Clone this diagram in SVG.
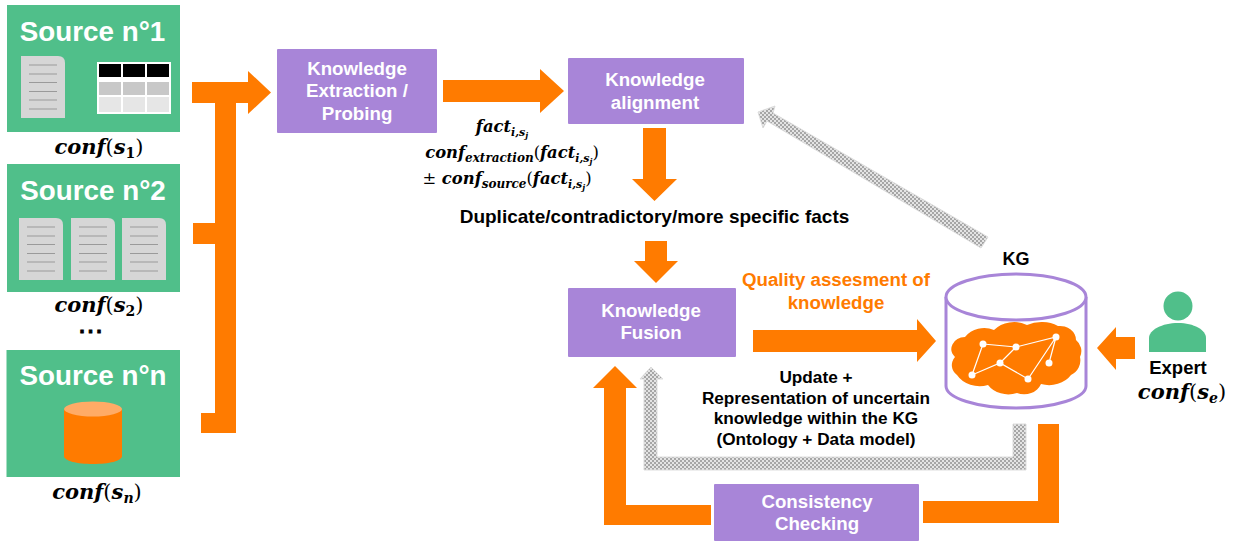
<svg xmlns="http://www.w3.org/2000/svg" width="1239" height="543" viewBox="0 0 1239 543">
<style>
.src{fill:#50bf8a}
.sl{font:bold 27.800px "Liberation Sans",Arial,sans-serif;fill:#fff;text-anchor:middle}
.box{fill:#a885d8}
.bl{font:bold 18.700px "Liberation Sans",Arial,sans-serif;fill:#fff;text-anchor:middle}
.t{font:bold 17.200px "Liberation Sans",Arial,sans-serif;fill:#000;text-anchor:middle}
.q{font:bold 18.700px "Liberation Sans",Arial,sans-serif;fill:#ff7b00;text-anchor:middle}
.m{font:italic bold 21px "DejaVu Serif","Liberation Serif",serif;fill:#000;text-anchor:middle}
.f{font-size:16.400px}
.m .u{font-style:normal;font-weight:normal}
.s{font-size:14px}
.o{fill:#ff7b00}
.g{fill:url(#chk);stroke:#ddd;stroke-width:1}
.ln{stroke:#9a9a9a;stroke-width:1}
.e{stroke:#fff;stroke-width:1.2;fill:none}
.n{fill:#fff}
</style>
<defs>
<pattern id="chk" width="4" height="4" patternUnits="userSpaceOnUse">
<rect width="4" height="4" fill="#e4e4e4"/>
<rect width="2" height="2" fill="#a6a6a6"/>
<rect x="2" y="2" width="2" height="2" fill="#a6a6a6"/>
</pattern>
<g id="doc">
<path d="M0 0H37Q44 0 44 7V62H0Z" fill="#d6d6d6"/>
<path class="ln" d="M8 9H36M8 18H36M8 26.500H36M8 35.500H36M8 44H36M8 53H36"/>
</g>
</defs>

<g id="connectors">
<path class="o" d="M192 82H248V71L271 92.500L248 114V103H236V433H201V413H215V244H193V223H215V103H192Z"/>
<path class="o" d="M443 80H540V69L564 91L540 113V102H443Z"/>
<path class="o" d="M643 128H666V179H677L654.500 201L632 179H643Z"/>
<path class="o" d="M645 241H667V261H678L656 283L634 261H645Z"/>
<path class="o" d="M753 330H917V319L936 341L917 362V352H753Z"/>
<path class="o" d="M1135 337V359H1116V370L1097 348L1116 327V337Z"/>
<path class="o" d="M923 501H1038V424H1059V523H923Z"/>
<path class="o" d="M711 505V525H604V388H593L615 366L637 388H626V505Z"/>
<path class="g" d="M758 112L775 106L773 113L988 237L981 248L767 121L763 128Z"/>
<path class="g" d="M1013 424H1026V470H644V379H640L651 367L663 379H657V457H1013Z"/>
</g>

<g id="source1">
<rect class="src" x="7" y="5" width="173" height="127"/>
<text class="sl" x="92.500" y="41">Source n°1</text>
<use href="#doc" x="21" y="56"/>
<rect x="97" y="62" width="74" height="52" fill="#fff"/>
<g fill="#000"><rect x="99" y="64" width="22" height="13"/><rect x="123" y="64" width="22" height="13"/><rect x="147" y="64" width="22" height="13"/></g>
<g fill="#c8c8c8"><rect x="99" y="82" width="22" height="13"/><rect x="123" y="82" width="22" height="13"/><rect x="147" y="82" width="22" height="13"/></g>
<g fill="#e6e6e6"><rect x="99" y="97" width="22" height="15"/><rect x="123" y="97" width="22" height="15"/><rect x="147" y="97" width="22" height="15"/></g>
<text class="m" x="99" y="154">conf<tspan class="u">(</tspan>s<tspan class="s" dy="4" font-style="normal">1</tspan><tspan class="u" dy="-4">)</tspan></text>
</g>

<g id="source2">
<rect class="src" x="7" y="164" width="173" height="128"/>
<text class="sl" x="93" y="200">Source n°2</text>
<use href="#doc" x="19" y="218"/>
<use href="#doc" x="71" y="218"/>
<use href="#doc" x="122" y="218"/>
<text class="m" x="99" y="312">conf<tspan class="u">(</tspan>s<tspan class="s" dy="4" font-style="normal">2</tspan><tspan class="u" dy="-4">)</tspan></text>
<text x="92" y="333" font-family="Liberation Sans,Arial,sans-serif" font-weight="bold" font-size="20" text-anchor="middle" letter-spacing="3" stroke="#000" stroke-width="0.800">...</text>
</g>

<g id="sourceN">
<rect class="src" x="6.500" y="350" width="173.500" height="127"/>
<text class="sl" x="93" y="385">Source n°n</text>
<path class="o" d="M64 409H122V456C122 461 109 464 93 464S64 461 64 456Z"/>
<ellipse cx="93" cy="409" rx="29" ry="7.500" fill="#ffab66"/>
<text class="m" x="97" y="499">conf<tspan class="u">(</tspan>s<tspan class="s" dy="4">n</tspan><tspan class="u" dy="-4">)</tspan></text>
</g>

<g id="extraction">
<rect class="box" x="277" y="49" width="160" height="84" rx="1"/>
<text class="bl" x="357" y="75">Knowledge</text>
<text class="bl" x="357" y="97">Extraction /</text>
<text class="bl" x="357" y="120">Probing</text>
</g>

<g id="alignment">
<rect class="box" x="568" y="58" width="176" height="66" rx="1"/>
<text class="bl" x="655" y="86">Knowledge</text>
<text class="bl" x="655" y="109">alignment</text>
</g>

<g id="facts">
<text class="m f" x="502" y="132">fact<tspan dy="4" style="font-size:11px">i,s</tspan><tspan dy="2" style="font-size:8px">j</tspan></text>
<text class="m f" x="512" y="158">conf<tspan dy="4" style="font-size:12px">extraction</tspan><tspan class="u" dy="-4">(</tspan>fact<tspan dy="4" style="font-size:11px">i,s</tspan><tspan dy="2" style="font-size:8px">j</tspan><tspan class="u" dy="-6">)</tspan></text>
<text class="m f" x="507" y="184"><tspan class="u">±</tspan> conf<tspan dy="4" style="font-size:12px">source</tspan><tspan class="u" dy="-4">(</tspan>fact<tspan dy="4" style="font-size:11px">i,s</tspan><tspan dy="2" style="font-size:8px">j</tspan><tspan class="u" dy="-6">)</tspan></text>
</g>

<text id="dup" class="t" x="654.500" y="223" style="font-size:19px">Duplicate/contradictory/more specific facts</text>

<g id="fusion">
<rect class="box" x="568" y="288" width="168" height="69" rx="1"/>
<text class="bl" x="651" y="317">Knowledge</text>
<text class="bl" x="651" y="339">Fusion</text>
</g>

<g id="quality">
<text class="q" x="836" y="286">Quality assesment of</text>
<text class="q" x="836" y="309">knowledge</text>
</g>

<g id="update">
<text class="t" x="816" y="383">Update +</text>
<text class="t" x="816" y="404">Representation of uncertain</text>
<text class="t" x="816" y="424">knowledge within the KG</text>
<text class="t" x="816" y="445">(Ontology + Data model)</text>
</g>

<g id="consistency">
<rect class="box" x="714" y="484" width="205" height="57" rx="1"/>
<text class="bl" x="817" y="508">Consistency</text>
<text class="bl" x="817" y="530">Checking</text>
</g>

<g id="kg">
<text class="t" x="1016" y="265" style="font-size:18px">KG</text>
<path d="M946 297V386C946 398 977 408 1016 408S1086 398 1086 386V297" fill="#fff" stroke="#a885d8" stroke-width="3"/>
<ellipse cx="1016" cy="297" rx="70" ry="23" fill="#fff" stroke="#a885d8" stroke-width="3"/>
<path class="o" d="M955 357A14 12 0 0 1 965 337A24 22 0 0 1 994 330A26 22 0 0 1 1027 325A30 24 0 0 1 1058 326A16 14 0 0 1 1076 340A14 14 0 0 1 1080 357A16 16 0 0 1 1071 375A26 22 0 0 1 1041 384A18 16 0 0 1 1017 393A24 20 0 0 1 988 385A26 22 0 0 1 957 375A12 12 0 0 1 955 357Z"/>
<path class="e" d="M983 344L1016 347L1056 337L1028 379L1000 363L972 375L983 344M1016 347L1000 363M1056 337L1049 363"/>
<g class="n">
<circle cx="983" cy="344" r="3.500"/><circle cx="1016" cy="347" r="3.500"/><circle cx="1056" cy="337" r="3.500"/><circle cx="1000" cy="363" r="3.500"/><circle cx="1049" cy="363" r="3.500"/><circle cx="972" cy="375" r="3.500"/><circle cx="1028" cy="379" r="3.500"/>
</g>
</g>

<g id="expert">
<circle class="src" cx="1178" cy="306" r="14.500"/>
<path class="src" d="M1149 352V338C1149 330 1162 323 1178 323S1206 330 1206 338V352Z"/>
<text class="t" x="1178" y="374" style="font-size:18.500px">Expert</text>
<text class="m" x="1182" y="399">conf<tspan class="u">(</tspan>s<tspan class="s" dy="4">e</tspan><tspan class="u" dy="-4">)</tspan></text>
</g>
</svg>
